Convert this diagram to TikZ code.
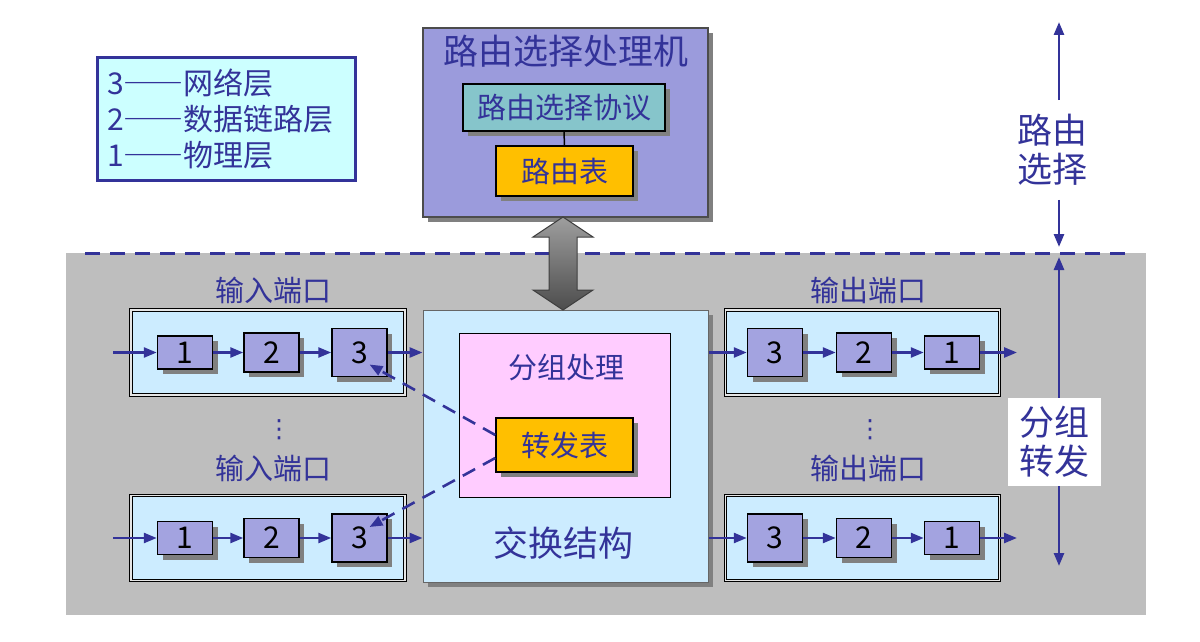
\documentclass[tikz,border=0pt]{standalone}
\usepackage{fontspec}
\setmainfont{Noto Sans CJK SC}
\newfontfamily\symfont{DejaVu Sans}
\usetikzlibrary{arrows.meta,shadows}
\definecolor{txtblue}{RGB}{51,51,153}
\definecolor{legendfill}{RGB}{204,255,255}
\definecolor{rpfill}{RGB}{155,155,220}
\definecolor{protofill}{RGB}{134,197,203}
\definecolor{tablefill}{RGB}{255,191,0}
\definecolor{layerfill}{RGB}{163,163,224}
\definecolor{portfill}{RGB}{204,236,255}
\definecolor{pktfill}{RGB}{255,204,255}
\definecolor{bgfill}{RGB}{190,190,190}
\newcommand{\layerdash}{{\addfontfeature{RawFeature=+fwid}——}}

\begin{document}
\begin{tikzpicture}[x=1pt,y=-1pt,
    lbl/.style={text=txtblue, font=\fontsize{29pt}{34pt}\selectfont},
    biglbl/.style={text=txtblue, font=\fontsize{35pt}{39pt}\selectfont, align=center},
    vdotlbl/.style={text=txtblue, inner sep=0pt, font=\symfont\fontsize{25pt}{25pt}\selectfont},
    shbox/.style={draw=black, line width=1.5pt, inner sep=0pt,
        drop shadow={shadow xshift=5pt, shadow yshift=-5pt, fill=black!50, opacity=1}},
    layer/.style={shbox, fill=layerfill, minimum width=55pt, font=\fontsize{30pt}{30pt}\selectfont},
    layer1/.style={layer, minimum height=33pt},
    layer2/.style={layer, minimum height=39pt},
    layer3/.style={layer, minimum height=48pt},
    tablebox/.style={shbox, fill=tablefill, minimum width=137pt, lbl},
    port/.style={draw=black, double=white!80!gray, double distance=1.6pt, line width=1.1pt,
        fill=portfill, minimum width=274pt, minimum height=85pt},
    flow/.style={draw=txtblue, line width=2.6pt, -{Triangle[length=13pt,width=10pt]}},
    dashflow/.style={flow, dash pattern=on 14pt off 9pt}]
    \useasboundingbox (0,0) rectangle (1200,642);

    \fill[bgfill] (66,253) rectangle (1146,615);
    \draw[txtblue, line width=3pt, dash pattern=on 15pt off 10pt] (85,253) -- (1130,253);

    \node[draw=txtblue, line width=3pt, fill=legendfill, text=txtblue, text width=238pt,
        inner xsep=10pt, minimum height=122pt, align=left,
        font=\fontsize{30pt}{36pt}\selectfont] (legend) at (226,119)
        {3\layerdash 网络层\\2\layerdash 数据链路层\\1\layerdash 物理层};

    \node[shbox, draw=black!70, line width=1.2pt, fill=rpfill, minimum width=285pt, minimum height=189pt] (rp) at (565.5,122.5) {};
    \node[biglbl] (rptitle) at (565.5,51) {路由选择处理机};
    \node[shbox, fill=protofill, minimum width=202pt, minimum height=47pt, lbl] (proto) at (564,107.5) {路由选择协议};
    \node[tablebox, minimum height=50pt] (rtable) at (564.5,171) {路由表};
    \draw[line width=1.5pt] (proto.south) -- (rtable.north);

    \node[shbox, draw=black!60, line width=1pt, fill=portfill, minimum width=285pt, minimum height=272pt] (fabric) at (565.5,446) {};
    \node[biglbl] (fabriclbl) at (563,543) {交换结构};
    \node[draw=black, line width=0.8pt, fill=pktfill, minimum width=211pt, minimum height=164pt] (pkt) at (564.5,415) {};
    \node[lbl] (pktlbl) at (566,368) {分组处理};
    \node[tablebox, minimum height=54pt] (ftable) at (564.5,445) {转发表};

    \coordinate (up) at (563,217);
    \coordinate (dn) at (563,310);
    \draw[draw=black!75, line width=1pt, top color=black!38, bottom color=black!70]
        (up) -- ++(30,20) -- ++(-16,0) -- ++(0,53) -- ++(16,0) -- (dn)
        -- ++(-30,-20) -- ++(16,0) -- ++(0,-53) -- ++(-16,0) -- cycle;

    \node[port] (uin) at (268,352.5) {};
    \node[lbl] (uinlbl) at (273,290) {输入端口};
    \node[layer1] (ui1) at (185,352.5) {1};
    \node[layer2] (ui2) at (271.5,352.5) {2};
    \node[layer3] (ui3) at (359.5,352.5) {3};

    \node[vdotlbl] (ldots) at (279,430) {⋮};
    \node[lbl] (linlbl) at (273,468) {输入端口};
    \node[port] (lin) at (268,538) {};
    \node[layer1] (li1) at (185,538) {1};
    \node[layer2] (li2) at (271.5,538) {2};
    \node[layer3] (li3) at (359.5,538) {3};

    \node[port] (uout) at (862.5,352.5) {};
    \node[lbl] (uoutlbl) at (868,290) {输出端口};
    \node[layer3] (uo3) at (775,352.5) {3};
    \node[layer2] (uo2) at (864,352.5) {2};
    \node[layer1] (uo1) at (952,352.5) {1};

    \node[vdotlbl] (rdots) at (870,430) {⋮};
    \node[lbl] (loutlbl) at (868,468) {输出端口};
    \node[port] (lout) at (862.5,538) {};
    \node[layer3] (lo3) at (775,538) {3};
    \node[layer2] (lo2) at (864,538) {2};
    \node[layer1] (lo1) at (952,538) {1};

    \coordinate (uinstart) at (113,352.5);
    \coordinate (linstart) at (113,538);
    \coordinate (uoutend) at (1017,352.5);
    \coordinate (loutend) at (1017,538);
    \draw[flow] (uinstart) -- (ui1.west);
    \draw[flow] (ui1.east) -- (ui2.west);
    \draw[flow] (ui2.east) -- (ui3.west);
    \draw[flow] (ui3.east) -- (ui3.east -| fabric.west);
    \draw[flow] (linstart) -- (li1.west);
    \draw[flow] (li1.east) -- (li2.west);
    \draw[flow] (li2.east) -- (li3.west);
    \draw[flow] (li3.east) -- (li3.east -| fabric.west);
    \draw[flow] (uo3.west -| fabric.east) -- (uo3.west);
    \draw[flow] (uo3.east) -- (uo2.west);
    \draw[flow] (uo2.east) -- (uo1.west);
    \draw[flow] (uo1.east) -- (uoutend);
    \draw[flow] (lo3.west -| fabric.east) -- (lo3.west);
    \draw[flow] (lo3.east) -- (lo2.west);
    \draw[flow] (lo2.east) -- (lo1.west);
    \draw[flow] (lo1.east) -- (loutend);

    \draw[dashflow] ([yshift=10pt]ftable.west) -- ([shift={(10pt,-12pt)}]ui3.center);
    \draw[dashflow] ([yshift=-13pt]ftable.west) -- ([shift={(10pt,11pt)}]li3.center);

    \node[biglbl, fill=white, inner xsep=4pt, inner ysep=14pt] (rsel) at (1052,150) {路由\\选择};
    \node[biglbl, fill=white, minimum width=93pt, minimum height=88pt, inner sep=0pt] (fwd) at (1054.5,442) {分组\\转发};
    \coordinate (rtop) at (1059,22);
    \coordinate (rbot) at (1059,247);
    \coordinate (ftop) at (1059,257);
    \coordinate (fbot) at (1059,566);
    \draw[flow] (rsel.north -| rtop) -- (rtop);
    \draw[flow] (rsel.south -| rtop) -- (rbot);
    \draw[flow] (fwd.north -| ftop) -- (ftop);
    \draw[flow] (fwd.south -| ftop) -- (fbot);
\end{tikzpicture}
\end{document}
